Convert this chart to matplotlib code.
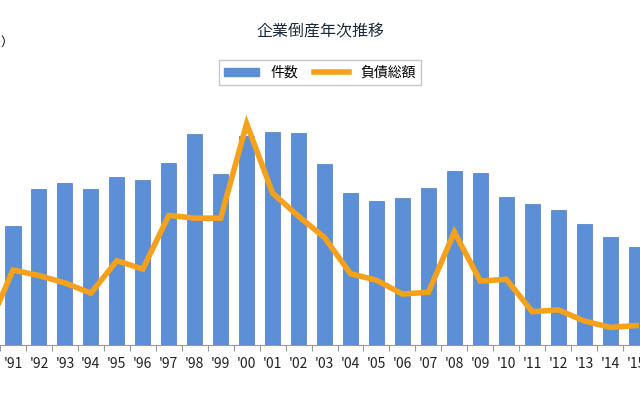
import matplotlib
matplotlib.use('Agg')
import matplotlib.pyplot as plt
from matplotlib.patches import Patch
from matplotlib.lines import Line2D

plt.rcParams['font.family'] = 'Noto Sans CJK JP'

years = ["'90", "'91", "'92", "'93", "'94", "'95", "'96", "'97", "'98", "'99", "'00", "'01", "'02",
         "'03", "'04", "'05", "'06", "'07", "'08", "'09", "'10", "'11", "'12", "'13", "'14", "'15"]
counts = [6468, 10723, 14069, 14564, 14061, 15108, 14834, 16365, 18988, 15352, 18769, 19164, 19087,
          16255, 13679, 12998, 13245, 14091, 15646, 15480, 13321, 12734, 12124, 10855, 9731, 8812]
debt = [1.6, 8.1, 7.5, 6.7, 5.6, 9.1, 8.2, 14.0, 13.7, 13.7, 23.9, 16.4, 13.9,
        11.6, 7.7, 7.0, 5.5, 5.7, 12.2, 6.9, 7.1, 3.6, 3.8, 2.6, 1.9, 2.1]

fig = plt.figure(figsize=(6.4, 4.0), dpi=100)
ax = fig.add_axes([0, 0.1375, 1, 0.8625])
x = list(range(len(years)))
ax.bar(x, counts, width=0.58, color='#5b8fd6', edgecolor='#4a7cc4', linewidth=0.5, zorder=2)
for s in ['top', 'left', 'right']:
    ax.spines[s].set_visible(False)
ax.spines['bottom'].set_color('#999999')
ax.set_yticks([])
ax.set_xticks([i + 0.5 for i in x])
ax.set_xticklabels([])
ax.set_xticks(x, minor=True)
ax.set_xticklabels(years, minor=True, fontsize=10, color='#222222')
ax.tick_params(axis='x', which='major', length=4, color='#999999')
ax.tick_params(axis='x', which='minor', length=0, pad=9)
ax.set_ylim(0, 345 * 90)

ax2 = ax.twinx()
ax2.plot(x, debt, color='#f5a11c', linewidth=4, solid_joinstyle='miter', zorder=3)
ax2.set_ylim(0, 345 * 0.108)
ax2.axis('off')
ax.set_xlim(0.5, 25.15)

fig.text(0.5, 0.92, '企業倒産年次推移', ha='center', va='center', fontsize=11.5, color='#1a2a3a')
fig.text(0.0, 0.895, '）', ha='left', va='center', fontsize=9)
fig.text(0.99, 0.895, '（', ha='left', va='center', fontsize=9)

handles = [Patch(color='#5b8fd6'), Line2D([], [], color='#f5a11c', linewidth=4)]
fig.legend(handles, ['件数', '負債総額'], loc='center', bbox_to_anchor=(0.5, 0.818), ncol=2,
           fontsize=10, frameon=True, fancybox=False, edgecolor='#bbbbbb',
           handlelength=2.5, handleheight=0.5, columnspacing=1.2, borderpad=0.4)

fig.savefig('out.png', dpi=100)
